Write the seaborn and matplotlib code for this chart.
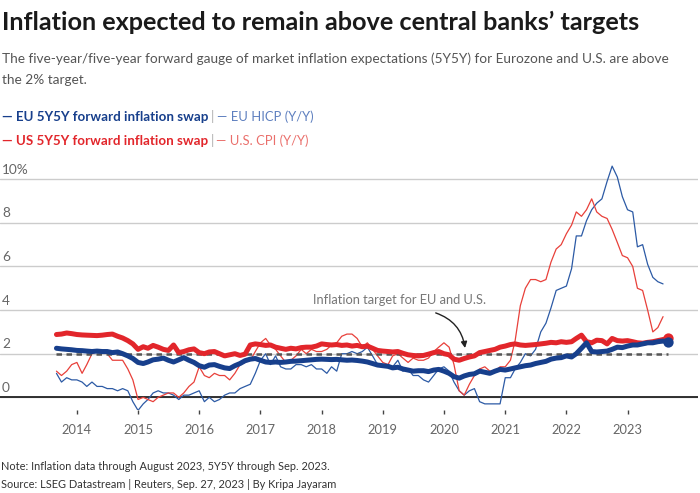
import pandas as pd
import numpy as np
import seaborn as sns
import matplotlib.pyplot as plt

# monthly values, Sep 2013 onwards (swaps through Sep 2023, CPI through Aug 2023)
eu_swap = [2.25, 2.22, 2.20, 2.18,
           2.15, 2.14, 2.12, 2.10, 2.12, 2.10, 2.10, 2.05, 2.08, 2.00, 1.90, 1.78,
           1.60, 1.55, 1.62, 1.72, 1.75, 1.80, 1.70, 1.62, 1.72, 1.82, 1.70, 1.60,
           1.45, 1.38, 1.48, 1.50, 1.42, 1.35, 1.32, 1.45, 1.55, 1.68, 1.75, 1.78,
           1.70, 1.62, 1.60, 1.62, 1.60, 1.62, 1.65, 1.66, 1.68, 1.70, 1.72, 1.74,
           1.75, 1.74, 1.73, 1.74, 1.72, 1.70, 1.71, 1.69, 1.66, 1.62, 1.55, 1.48,
           1.45, 1.42, 1.35, 1.38, 1.30, 1.25, 1.20, 1.22, 1.22, 1.18, 1.25, 1.28,
           1.20, 1.10, 0.95, 0.88, 0.98, 1.05, 1.08, 1.20, 1.15, 1.10, 1.20, 1.28,
           1.25, 1.30, 1.35, 1.40, 1.45, 1.48, 1.55, 1.60, 1.65, 1.75, 1.80, 1.82,
           1.90, 1.85, 2.00, 2.25, 2.50, 2.10, 2.08, 2.10, 2.12, 2.20, 2.30, 2.28,
           2.35, 2.40, 2.40, 2.45, 2.50, 2.50, 2.55, 2.58, 2.55]
us_swap = [2.88, 2.90, 2.95, 2.92,
           2.88, 2.86, 2.85, 2.84, 2.83, 2.85, 2.88, 2.90, 2.80, 2.72, 2.60, 2.45,
           2.20, 2.32, 2.25, 2.38, 2.30, 2.20, 2.15, 2.40, 2.05, 2.10, 2.18, 2.22,
           2.05, 2.00, 2.08, 2.10, 2.00, 1.90, 1.95, 2.00, 1.92, 1.98, 2.40, 2.45,
           2.42, 2.38, 2.40, 2.30, 2.25, 2.20, 2.25, 2.22, 2.28, 2.30, 2.30, 2.35,
           2.45, 2.42, 2.40, 2.42, 2.38, 2.40, 2.35, 2.38, 2.32, 2.35, 2.25, 2.15,
           2.12, 2.10, 2.08, 2.10, 2.02, 1.95, 1.92, 1.90, 1.92, 1.98, 2.05, 2.10,
           2.00, 1.95, 1.75, 1.70, 1.78, 1.85, 1.90, 2.05, 2.10, 2.15, 2.20, 2.30,
           2.35, 2.42, 2.45, 2.40, 2.38, 2.40, 2.42, 2.45, 2.48, 2.52, 2.50, 2.55,
           2.52, 2.55, 2.70, 2.85, 2.55, 2.50, 2.62, 2.60, 2.45, 2.70, 2.60, 2.58,
           2.60, 2.55, 2.50, 2.48, 2.52, 2.55, 2.60, 2.65, 2.72]
eu_hicp = [1.1, 0.7, 0.9, 0.8,
           0.8, 0.7, 0.5, 0.7, 0.5, 0.5, 0.4, 0.4, 0.3, 0.4, 0.3, -0.2,
           -0.6, -0.3, -0.1, 0.2, 0.3, 0.2, 0.2, 0.1, -0.1, 0.1, 0.1, 0.2,
           0.3, -0.2, 0.0, -0.2, -0.1, 0.1, 0.2, 0.2, 0.4, 0.5, 0.6, 1.1,
           1.7, 2.0, 1.5, 1.9, 1.4, 1.3, 1.3, 1.5, 1.5, 1.4, 1.5, 1.3,
           1.3, 1.1, 1.4, 1.2, 2.0, 2.0, 2.1, 2.0, 2.1, 2.3, 1.9, 1.5,
           1.4, 1.5, 1.4, 1.7, 1.2, 1.3, 1.0, 1.0, 0.8, 0.7, 1.0, 1.3,
           1.4, 1.2, 0.7, 0.3, 0.1, 0.3, 0.4, -0.2, -0.3, -0.3, -0.3, -0.3,
           0.9, 0.9, 1.3, 1.6, 2.0, 1.9, 2.2, 3.0, 3.4, 4.1, 4.9, 5.0,
           5.1, 5.9, 7.4, 7.4, 8.1, 8.6, 8.9, 9.1, 9.9, 10.6, 10.1, 9.2,
           8.6, 8.5, 6.9, 7.0, 6.1, 5.5, 5.3, 5.2]
us_cpi = [1.2, 1.0, 1.2, 1.5,
          1.6, 1.1, 1.5, 2.0, 2.1, 2.1, 2.0, 1.7, 1.7, 1.7, 1.3, 0.8,
          -0.1, 0.0, -0.1, -0.2, 0.0, 0.1, 0.2, 0.2, 0.0, 0.2, 0.5, 0.7,
          1.4, 1.0, 0.9, 1.1, 1.0, 1.0, 0.8, 1.1, 1.5, 1.6, 1.7, 2.1,
          2.5, 2.7, 2.4, 2.2, 1.9, 1.6, 1.7, 1.9, 2.2, 2.0, 2.2, 2.1,
          2.1, 2.2, 2.4, 2.5, 2.8, 2.9, 2.9, 2.7, 2.3, 2.5, 2.2, 1.9,
          1.6, 1.5, 1.9, 2.0, 1.8, 1.6, 1.8, 1.7, 1.7, 1.8, 2.1, 2.3,
          2.5, 2.3, 1.5, 0.3, 0.1, 0.6, 1.0, 1.3, 1.4, 1.2, 1.2, 1.4,
          1.4, 1.7, 2.6, 4.2, 5.0, 5.4, 5.4, 5.3, 5.4, 6.2, 6.8, 7.0,
          7.5, 7.9, 8.5, 8.3, 8.6, 9.1, 8.5, 8.3, 8.2, 7.7, 7.1, 6.5,
          6.4, 6.0, 5.0, 4.9, 4.0, 3.0, 3.2, 3.7]
years = list(range(2014, 2024))
y_ticks = [0, 2, 4, 6, 8, 10]
y_labels = ['0', '2', '4', '6', '8', '10%']
target = 2.0

swap = pd.DataFrame({'date': pd.date_range('2013-09-01', periods=len(eu_swap), freq='MS'),
                     'eu': eu_swap, 'us': us_swap})
cpi = pd.DataFrame({'date': pd.date_range('2013-09-01', periods=len(eu_hicp), freq='MS'),
                    'eu': eu_hicp, 'us': us_cpi})

sns.set_theme(style='white')
plt.rcParams['font.family'] = ['Lato', 'DejaVu Sans']

BLUE = '#173f8c'
RED = '#e2262b'
THIN_BLUE = '#2c5aa5'
THIN_RED = '#e8403a'
GREY = '#666666'

fig = plt.figure(figsize=(7, 4.93), dpi=100)
ax = fig.add_axes([0, 0.1684, 0.997, 0.5132])

sns.lineplot(data=cpi, x='date', y='eu', color=THIN_BLUE, lw=0.9, ax=ax)
sns.lineplot(data=cpi, x='date', y='us', color=THIN_RED, lw=0.9, ax=ax)
ax.plot([swap['date'].iloc[0], swap['date'].iloc[-1]], [target, target],
        color='#555555', lw=1.8, ls=(0, (2.2, 1.8)), zorder=2)
sns.lineplot(data=swap, x='date', y='us', color=RED, lw=3.6, ax=ax,
             solid_joinstyle='round', solid_capstyle='round', zorder=3)
sns.lineplot(data=swap, x='date', y='eu', color=BLUE, lw=3.6, ax=ax,
             solid_joinstyle='round', solid_capstyle='round', zorder=4)
last = swap.iloc[[-1]]
sns.scatterplot(data=last, x='date', y='us', color=RED, s=55, ax=ax, zorder=3, linewidth=0)
sns.scatterplot(data=last, x='date', y='eu', color=BLUE, s=55, ax=ax, zorder=4, linewidth=0)

ax.axhline(0, color='#222222', lw=1.3, zorder=1)
ax.set_ylim(-0.58, 11.02)
ax.set_xlim(pd.Timestamp('2012-09-29'), pd.Timestamp('2024-02-25'))
ax.set_yticks(y_ticks)
ax.set_yticklabels([])
ax.yaxis.grid(True, color='#cccccc', lw=1)
ax.set_xticks([pd.Timestamp(f'{y}-01-01') for y in years])
ax.set_xticklabels([str(y) for y in years])
ax.tick_params(axis='x', bottom=True, direction='out', length=3, width=1,
               color='#444444', pad=7, labelsize=9.3, labelcolor=GREY)
ax.tick_params(axis='y', left=False, length=0)
ax.set_xlabel('')
ax.set_ylabel('')
for s in ax.spines.values():
    s.set_visible(False)

for v, lab in zip(y_ticks, y_labels):
    ax.annotate(lab, xy=(0, v), xycoords=ax.get_yaxis_transform(),
                xytext=(1.5, 2.5), textcoords='offset points',
                ha='left', va='bottom', fontsize=9.8, color=GREY)

ax.text(pd.Timestamp('2019-04-08'), 4.46, 'Inflation target for EU and U.S.',
        ha='center', va='center', fontsize=9.3, color='#777777')
ax.annotate('', xy=(pd.Timestamp('2020-05-06'), 2.26),
            xytext=(pd.Timestamp('2019-11-13'), 3.87),
            arrowprops=dict(arrowstyle='-|>', connectionstyle='arc3,rad=-0.3',
                            color='#222222', lw=1, shrinkA=0, shrinkB=0,
                            mutation_scale=9))

# header
fig.text(2 / 700, 1 - 30 / 493, 'Inflation expected to remain above central banks’ targets',
         fontsize=18.2, fontweight='bold', color='#1a1a1a', va='baseline')
fig.text(2 / 700, 1 - 63 / 493,
         'The five-year/five-year forward gauge of market inflation expectations (5Y5Y) for Eurozone and U.S. are above',
         fontsize=9.8, color='#555555', va='baseline')
fig.text(2 / 700, 1 - 84 / 493, 'the 2% target.', fontsize=9.8, color='#555555', va='baseline')

# legend rows
rows = [(117, '— EU 5Y5Y forward inflation swap', BLUE, '— EU HICP (Y/Y)', '#5d7fbf'),
        (141, '— US 5Y5Y forward inflation swap', RED, '— U.S. CPI (Y/Y)', '#ea6f6b')]
for y, bold_txt, c1, thin_txt, c2 in rows:
    t1 = fig.text(2 / 700, 1 - y / 493, bold_txt, fontsize=9.6, fontweight='bold',
                  color=c1, va='baseline')
    t2 = fig.text(0, 0, '|', fontsize=9.6, color='#aaaaaa', va='baseline')
    t3 = fig.text(0, 0, thin_txt, fontsize=9.4, color=c2, va='baseline')
    fig.canvas.draw()
    bb = t1.get_window_extent()
    t2.set_position(((bb.x1 + 2.5) / 700, 1 - y / 493))
    bb2 = t2.get_window_extent()
    t3.set_position(((bb2.x1 + 2.5) / 700, 1 - y / 493))
    t1.set_y(1 - (y + 4) / 493)
    t2.set_y(1 - (y + 4) / 493)
    t3.set_y(1 - (y + 4) / 493)

# footer
fig.text(1 / 700, 1 - 466 / 493, 'Note: Inflation data through August 2023, 5Y5Y through Sep. 2023.',
         fontsize=7.9, color='#333333', va='center')
fig.text(1 / 700, 1 - 484 / 493, 'Source: LSEG Datastream | Reuters, Sep. 27, 2023 | By Kripa Jayaram',
         fontsize=7.9, color='#333333', va='center')

plt.savefig('out.png', dpi=100)
